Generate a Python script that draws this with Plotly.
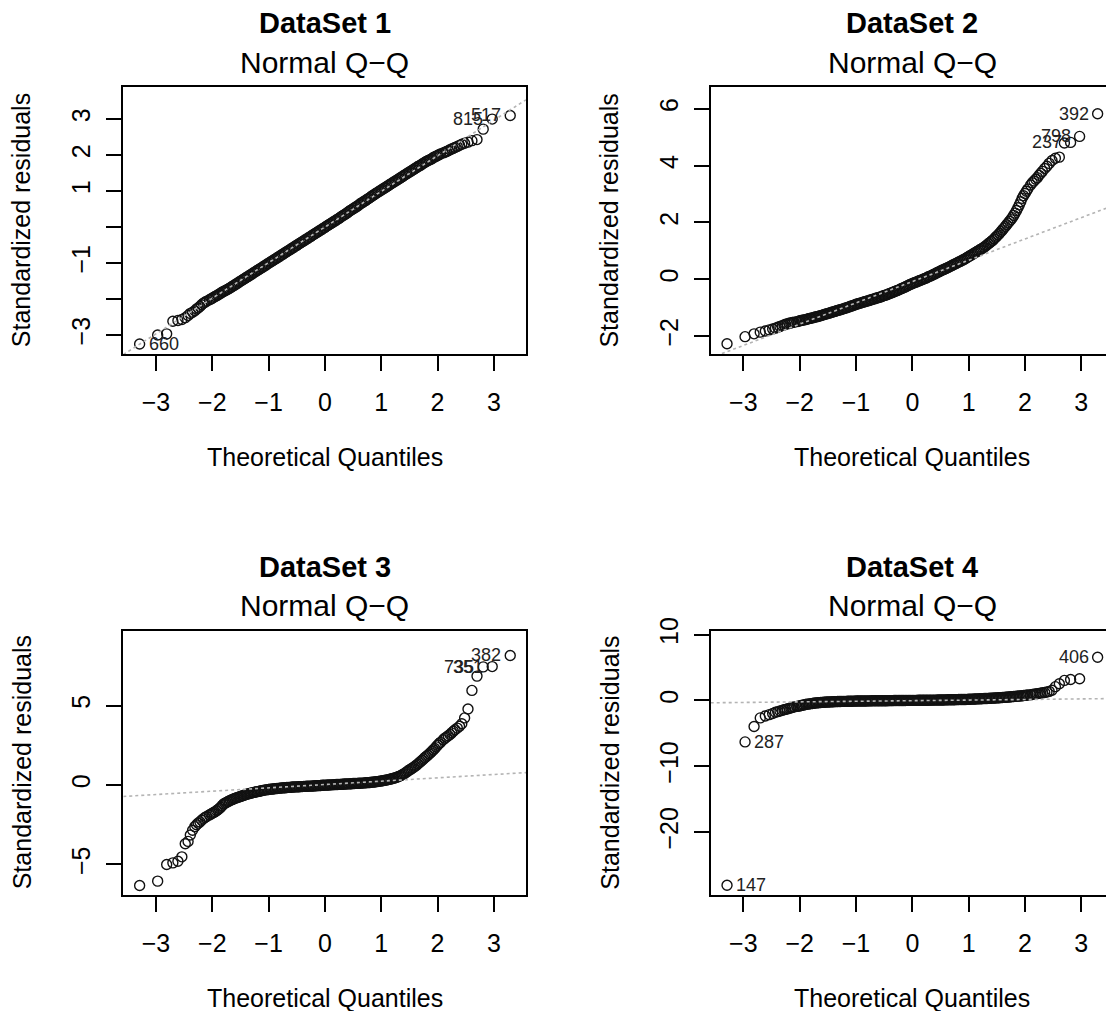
import plotly.graph_objects as go

# ---------------- data ----------------
THEORETICAL_Q = [
    -3.29, -2.97, -2.81, -2.70, -2.61, -2.54, -2.48, -2.43, -2.39, -2.35, -2.31, -2.28, -2.25, -2.22, -2.19, -2.16, -2.13, -2.10,
    -2.050, -2.025, -2.000, -1.975, -1.950, -1.925, -1.900, -1.875, -1.850, -1.825,
    -1.800, -1.775, -1.750, -1.725, -1.700, -1.675, -1.650, -1.625, -1.600, -1.575,
    -1.550, -1.525, -1.500, -1.475, -1.450, -1.425, -1.400, -1.375, -1.350, -1.325,
    -1.300, -1.275, -1.250, -1.225, -1.200, -1.175, -1.150, -1.125, -1.100, -1.075,
    -1.050, -1.025, -1.000, -0.975, -0.950, -0.925, -0.900, -0.875, -0.850, -0.825,
    -0.800, -0.775, -0.750, -0.725, -0.700, -0.675, -0.650, -0.625, -0.600, -0.575,
    -0.550, -0.525, -0.500, -0.475, -0.450, -0.425, -0.400, -0.375, -0.350, -0.325,
    -0.300, -0.275, -0.250, -0.225, -0.200, -0.175, -0.150, -0.125, -0.100, -0.075,
    -0.050, -0.025, 0.000,
    0.025, 0.050, 0.075, 0.100, 0.125, 0.150, 0.175, 0.200, 0.225, 0.250,
    0.275, 0.300, 0.325, 0.350, 0.375, 0.400, 0.425, 0.450, 0.475, 0.500,
    0.525, 0.550, 0.575, 0.600, 0.625, 0.650, 0.675, 0.700, 0.725, 0.750,
    0.775, 0.800, 0.825, 0.850, 0.875, 0.900, 0.925, 0.950, 0.975, 1.000,
    1.025, 1.050, 1.075, 1.100, 1.125, 1.150, 1.175, 1.200, 1.225, 1.250,
    1.275, 1.300, 1.325, 1.350, 1.375, 1.400, 1.425, 1.450, 1.475, 1.500,
    1.525, 1.550, 1.575, 1.600, 1.625, 1.650, 1.675, 1.700, 1.725, 1.750,
    1.775, 1.800, 1.825, 1.850, 1.875, 1.900, 1.925, 1.950, 1.975, 2.000,
    2.025, 2.050,
    2.10, 2.13, 2.16, 2.19, 2.22, 2.25, 2.28, 2.31, 2.35, 2.39, 2.43, 2.48, 2.54, 2.61, 2.70, 2.81, 2.97, 3.29,
]

RESID_1 = [
    -3.25, -3.00, -2.97, -2.62, -2.60, -2.57, -2.52, -2.46, -2.40, -2.37, -2.33, -2.28, -2.25, -2.21, -2.16, -2.12, -2.09, -2.06,
    -2.02, -2.00, -1.98, -1.95, -1.93, -1.91, -1.89, -1.86, -1.84, -1.81,
    -1.79, -1.77, -1.75, -1.73, -1.71, -1.68, -1.66, -1.63, -1.61, -1.58,
    -1.56, -1.53, -1.51, -1.48, -1.46, -1.43, -1.41, -1.38, -1.36, -1.33,
    -1.31, -1.28, -1.26, -1.23, -1.21, -1.18, -1.16, -1.13, -1.11, -1.08,
    -1.06, -1.03, -1.01, -0.98, -0.96, -0.93, -0.91, -0.88, -0.86, -0.83,
    -0.81, -0.78, -0.76, -0.73, -0.71, -0.68, -0.66, -0.63, -0.61, -0.58,
    -0.56, -0.53, -0.51, -0.48, -0.46, -0.43, -0.41, -0.38, -0.36, -0.33,
    -0.31, -0.28, -0.26, -0.23, -0.21, -0.18, -0.16, -0.13, -0.11, -0.08,
    -0.06, -0.03, -0.01,
    0.02, 0.04, 0.07, 0.09, 0.12, 0.14, 0.17, 0.19, 0.22, 0.24,
    0.27, 0.30, 0.32, 0.35, 0.37, 0.40, 0.43, 0.46, 0.48, 0.51,
    0.53, 0.56, 0.58, 0.61, 0.64, 0.67, 0.69, 0.72, 0.74, 0.77,
    0.79, 0.82, 0.85, 0.88, 0.90, 0.93, 0.95, 0.98, 1.00, 1.03,
    1.05, 1.08, 1.10, 1.13, 1.15, 1.18, 1.20, 1.23, 1.25, 1.28,
    1.30, 1.33, 1.35, 1.38, 1.40, 1.43, 1.45, 1.48, 1.50, 1.53,
    1.55, 1.58, 1.60, 1.63, 1.65, 1.68, 1.70, 1.72, 1.75, 1.77,
    1.80, 1.82, 1.84, 1.86, 1.88, 1.90, 1.93, 1.95, 1.97, 1.99,
    2.01, 2.03,
    2.06, 2.08, 2.10, 2.12, 2.15, 2.17, 2.19, 2.21, 2.24, 2.27, 2.30, 2.33, 2.36, 2.40, 2.43, 2.72, 3.00, 3.10,
]

RESID_2 = [
    -2.27, -2.02, -1.92, -1.86, -1.82, -1.78, -1.75, -1.72, -1.69, -1.66, -1.63, -1.61, -1.58, -1.57, -1.55, -1.54, -1.52, -1.51,
    -1.49, -1.48, -1.46, -1.45, -1.44, -1.43, -1.42, -1.41, -1.39, -1.38,
    -1.37, -1.36, -1.34, -1.33, -1.32, -1.31, -1.29, -1.28, -1.26, -1.25,
    -1.23, -1.22, -1.20, -1.19, -1.17, -1.16, -1.14, -1.13, -1.11, -1.10,
    -1.08, -1.07, -1.05, -1.04, -1.02, -1.01, -0.99, -0.97, -0.95, -0.94,
    -0.92, -0.90, -0.88, -0.87, -0.85, -0.84, -0.82, -0.81, -0.79, -0.78,
    -0.76, -0.75, -0.73, -0.72, -0.70, -0.69, -0.67, -0.66, -0.64, -0.63,
    -0.61, -0.59, -0.57, -0.56, -0.54, -0.52, -0.50, -0.48, -0.46, -0.44,
    -0.42, -0.40, -0.38, -0.36, -0.33, -0.31, -0.29, -0.27, -0.24, -0.22,
    -0.19, -0.17, -0.15,
    -0.13, -0.11, -0.09, -0.07, -0.05, -0.03, -0.01, 0.01, 0.03, 0.05,
    0.08, 0.10, 0.12, 0.14, 0.17, 0.19, 0.22, 0.24, 0.27, 0.29,
    0.32, 0.34, 0.36, 0.38, 0.41, 0.43, 0.46, 0.48, 0.51, 0.53,
    0.56, 0.58, 0.61, 0.63, 0.66, 0.68, 0.71, 0.74, 0.77, 0.80,
    0.83, 0.86, 0.89, 0.92, 0.95, 0.98, 1.01, 1.04, 1.07, 1.10,
    1.13, 1.17, 1.21, 1.25, 1.29, 1.33, 1.37, 1.42, 1.47, 1.52,
    1.57, 1.62, 1.68, 1.74, 1.80, 1.86, 1.92, 1.98, 2.04, 2.10,
    2.17, 2.25, 2.33, 2.42, 2.52, 2.62, 2.73, 2.85, 2.94, 3.02,
    3.10, 3.18,
    3.32, 3.40, 3.46, 3.52, 3.58, 3.66, 3.73, 3.80, 3.90, 3.98, 4.08, 4.18, 4.26, 4.30, 4.80, 4.82, 5.03, 5.83,
]

RESID_3 = [
    -6.32, -6.05, -5.00, -4.90, -4.80, -4.52, -3.70, -3.55, -3.15, -2.85, -2.62, -2.50, -2.40, -2.32, -2.22, -2.13, -2.05, -1.98,
    -1.88, -1.83, -1.78, -1.73, -1.68, -1.62, -1.55, -1.48, -1.40, -1.30,
    -1.20, -1.15, -1.10, -1.05, -1.00, -0.96, -0.92, -0.88, -0.85, -0.81,
    -0.78, -0.75, -0.72, -0.69, -0.66, -0.63, -0.60, -0.57, -0.55, -0.52,
    -0.50, -0.48, -0.46, -0.44, -0.42, -0.40, -0.38, -0.36, -0.34, -0.32,
    -0.31, -0.29, -0.28, -0.27, -0.26, -0.25, -0.24, -0.23, -0.22, -0.21,
    -0.20, -0.19, -0.18, -0.17, -0.17, -0.16, -0.15, -0.15, -0.14, -0.13,
    -0.13, -0.12, -0.12, -0.11, -0.11, -0.10, -0.10, -0.09, -0.09, -0.08,
    -0.08, -0.07, -0.07, -0.06, -0.06, -0.05, -0.05, -0.04, -0.04, -0.03,
    -0.02, -0.02, -0.01,
    -0.01, 0.00, 0.00, 0.01, 0.01, 0.02, 0.02, 0.03, 0.03, 0.04,
    0.04, 0.05, 0.05, 0.06, 0.06, 0.07, 0.07, 0.08, 0.08, 0.09,
    0.09, 0.10, 0.10, 0.11, 0.11, 0.12, 0.12, 0.13, 0.14, 0.15,
    0.15, 0.16, 0.17, 0.18, 0.19, 0.20, 0.21, 0.23, 0.24, 0.26,
    0.27, 0.29, 0.30, 0.32, 0.34, 0.36, 0.38, 0.41, 0.43, 0.46,
    0.49, 0.52, 0.56, 0.60, 0.65, 0.70, 0.76, 0.82, 0.88, 0.95,
    1.00, 1.06, 1.12, 1.18, 1.25, 1.32, 1.40, 1.48, 1.56, 1.64,
    1.72, 1.80, 1.87, 1.95, 2.03, 2.12, 2.21, 2.30, 2.40, 2.50,
    2.59, 2.68,
    2.85, 2.95, 3.02, 3.10, 3.18, 3.28, 3.38, 3.48, 3.58, 3.70, 3.85, 4.22, 4.78, 5.95, 6.85, 7.43, 7.45, 8.15,
]

RESID_4 = [
    -28.1, -6.30, -3.95, -2.65, -2.35, -2.15, -1.98, -1.80, -1.70, -1.60, -1.50, -1.42, -1.35, -1.28, -1.20, -1.12, -1.05, -0.98,
    -0.90, -0.86, -0.82, -0.77, -0.72, -0.67, -0.62, -0.58, -0.55, -0.51,
    -0.48, -0.45, -0.42, -0.39, -0.37, -0.35, -0.33, -0.31, -0.29, -0.27,
    -0.26, -0.24, -0.23, -0.22, -0.21, -0.20, -0.19, -0.18, -0.17, -0.16,
    -0.15, -0.15, -0.14, -0.14, -0.13, -0.13, -0.12, -0.12, -0.11, -0.11,
    -0.10, -0.10, -0.09, -0.09, -0.08, -0.08, -0.08, -0.07, -0.07, -0.07,
    -0.06, -0.06, -0.06, -0.05, -0.05, -0.05, -0.05, -0.04, -0.04, -0.04,
    -0.04, -0.03, -0.03, -0.03, -0.03, -0.02, -0.02, -0.02, -0.02, -0.01,
    -0.01, -0.01, -0.01, 0.00, 0.00, 0.00, 0.00, 0.00, 0.01, 0.01,
    0.01, 0.01, 0.02,
    0.02, 0.02, 0.02, 0.03, 0.03, 0.03, 0.03, 0.04, 0.04, 0.04,
    0.04, 0.05, 0.05, 0.05, 0.06, 0.06, 0.06, 0.07, 0.07, 0.07,
    0.08, 0.08, 0.09, 0.09, 0.10, 0.10, 0.11, 0.11, 0.12, 0.12,
    0.13, 0.13, 0.14, 0.14, 0.15, 0.15, 0.16, 0.16, 0.17, 0.18,
    0.19, 0.20, 0.21, 0.22, 0.23, 0.24, 0.25, 0.26, 0.27, 0.28,
    0.29, 0.30, 0.31, 0.32, 0.33, 0.34, 0.36, 0.37, 0.38, 0.39,
    0.41, 0.42, 0.44, 0.45, 0.47, 0.48, 0.50, 0.52, 0.54, 0.56,
    0.58, 0.60, 0.62, 0.64, 0.66, 0.68, 0.70, 0.73, 0.75, 0.78,
    0.80, 0.83,
    0.88, 0.92, 0.96, 1.00, 1.04, 1.08, 1.12, 1.17, 1.22, 1.30, 1.38, 1.55, 2.10, 2.55, 3.05, 3.20, 3.30, 6.58,
]

RESIDUALS = [RESID_1, RESID_2, RESID_3, RESID_4]

PANEL_TITLES = ["DataSet 1", "DataSet 2", "DataSet 3", "DataSet 4"]
SUBTITLE = "Normal Q\u2212Q"
X_LABEL = "Theoretical Quantiles"
Y_LABEL = "Standardized residuals"

X_TICKS = [-3, -2, -1, 0, 1, 2, 3]
X_TICK_TEXT = ["\u22123", "\u22122", "\u22121", "0", "1", "2", "3"]
Y_TICKS = [[-3, -2, -1, 0, 1, 2, 3], [-2, 0, 2, 4, 6], [-5, 0, 5], [-20, -10, 0, 10]]
Y_TICK_TEXT = [["\u22123", "", "\u22121", "", "1", "2", "3"],
               ["\u22122", "0", "2", "4", "6"],
               ["\u22125", "0", "5"],
               ["\u221220", "\u221210", "0", "10"]]

# qq reference line per panel: (intercept, slope)
QQ_LINES = [(0.0, 0.99), (-0.08, 0.75), (0.03, 0.21), (-0.03, 0.09)]

# labelled extreme points: (index into the sorted residuals, id)
POINT_LABELS = [
    [(0, "660"), (-2, "815"), (-1, "517")],
    [(-3, "237"), (-2, "798"), (-1, "392")],
    [(-3, "735"), (-2, "351"), (-1, "382")],
    [(0, "147"), (1, "287"), (-1, "406")],
]

# ---------------- layout geometry (pixels) ----------------
W, H = 1106, 1011
FONT = "Liberation Sans, Arial, Helvetica, sans-serif"
COL_X = [(123.3, 526.0), (710.7, 1106.0)]
ROW_Y = [(86.7, 354.0), (630.5, 894.5)]
X_PER_UNIT = (526.0 - 123.3) / 7.15
X_RANGES = [(-3.58, 3.57), (-3.58, -3.58 + (1106.0 - 710.7) / X_PER_UNIT)]
Y_RANGES = [(-3.53, 3.90), (-2.63, 6.78), (-6.89, 9.72), (-29.5, 10.64)]


def px_x(p):
    return p / W


def px_y(p):
    return 1 - p / H


fig = go.Figure()
annotations = []
layout_axes = {}

for i in range(4):
    row, col = divmod(i, 2)
    sfx = "" if i == 0 else str(i + 1)
    xa, ya = "x" + sfx, "y" + sfx
    (x0, x1), (y0, y1) = COL_X[col], ROW_Y[row]
    xr, yr = X_RANGES[col], Y_RANGES[i]
    xs, ys = THEORETICAL_Q, RESIDUALS[i]
    assert len(xs) == len(ys), (i, len(xs), len(ys))

    fig.add_trace(go.Scatter(
        x=xs, y=ys, mode="markers", xaxis=xa, yaxis=ya, showlegend=False,
        marker=dict(symbol="circle-open", size=10, color="#111111", line=dict(width=1.4, color="#111111")),
        hoverinfo="skip",
    ))
    a, b = QQ_LINES[i]
    fig.add_trace(go.Scatter(
        x=[xr[0], xr[1]], y=[a + b * xr[0], a + b * xr[1]], mode="lines", xaxis=xa, yaxis=ya,
        showlegend=False, line=dict(color="#b4b4b4", width=1.6, dash="dot"), hoverinfo="skip",
    ))

    layout_axes["xaxis" + sfx] = dict(
        domain=[px_x(x0), px_x(x1)], range=list(xr), anchor=ya, automargin=False,
        showgrid=False, zeroline=False, showline=True, mirror=True, linecolor="black", linewidth=2,
        ticks="outside", ticklen=15, tickwidth=2, tickcolor="black",
        tickvals=X_TICKS, ticktext=X_TICK_TEXT, ticklabelstandoff=10,
        tickfont=dict(family=FONT, size=25, color="black"),
    )
    layout_axes["yaxis" + sfx] = dict(
        domain=[px_y(y1), px_y(y0)], range=list(yr), anchor=xa, automargin=False,
        showgrid=False, zeroline=False, showline=True, mirror=(col == 0), linecolor="black", linewidth=2,
        ticks="outside", ticklen=15, tickwidth=2, tickcolor="black",
        tickvals=Y_TICKS[i], ticktext=Y_TICK_TEXT[i], tickangle=-90, ticklabelstandoff=6,
        tickfont=dict(family=FONT, size=25, color="black"),
    )

    cx = (x0 + (x0 + 7.15 * X_PER_UNIT)) / 2
    annotations.append(dict(text="<b>" + PANEL_TITLES[i] + "</b>", xref="paper", yref="paper",
                            x=px_x(cx), y=px_y(y0 - 63.7), xanchor="center", yanchor="middle",
                            showarrow=False, font=dict(family=FONT, size=29, color="black")))
    annotations.append(dict(text=SUBTITLE, xref="paper", yref="paper",
                            x=px_x(cx), y=px_y(y0 - 24.7), xanchor="center", yanchor="middle",
                            showarrow=False, font=dict(family=FONT, size=30, color="black")))
    annotations.append(dict(text=X_LABEL, xref="paper", yref="paper",
                            x=px_x(cx), y=px_y(y1 + 103.0), xanchor="center", yanchor="middle",
                            showarrow=False, font=dict(family=FONT, size=25, color="black")))
    annotations.append(dict(text=Y_LABEL, xref="paper", yref="paper", textangle=-90,
                            x=px_x(x0 - 101.5), y=px_y((y0 + y1) / 2), xanchor="center", yanchor="middle",
                            showarrow=False, font=dict(family=FONT, size=25, color="black")))

    for idx, label in POINT_LABELS[i]:
        px, py = xs[idx], ys[idx]
        left_side = px < 0
        annotations.append(dict(text=label, xref=xa, yref=ya, x=px, y=py,
                                xanchor="left" if left_side else "right", yanchor="middle",
                                xshift=7 if left_side else -7, showarrow=False,
                                font=dict(family=FONT, size=18, color="#222222")))

fig.update_layout(
    width=W, height=H, autosize=False,
    margin=dict(l=0, r=0, t=0, b=0, pad=0, autoexpand=False),
    paper_bgcolor="white", plot_bgcolor="white",
    annotations=annotations,
    **layout_axes,
)

fig.write_html(
    "out.html",
    config={"displayModeBar": False},
    post_script=(
        "document.documentElement.style.margin='0';document.body.style.margin='0';"
        "document.documentElement.style.overflow='hidden';document.body.style.overflow='hidden';"
        "var gd=document.querySelector('.plotly-graph-div');"
        "gd.style.position='fixed';gd.style.top='0px';gd.style.left='0px';"
    ),
)
